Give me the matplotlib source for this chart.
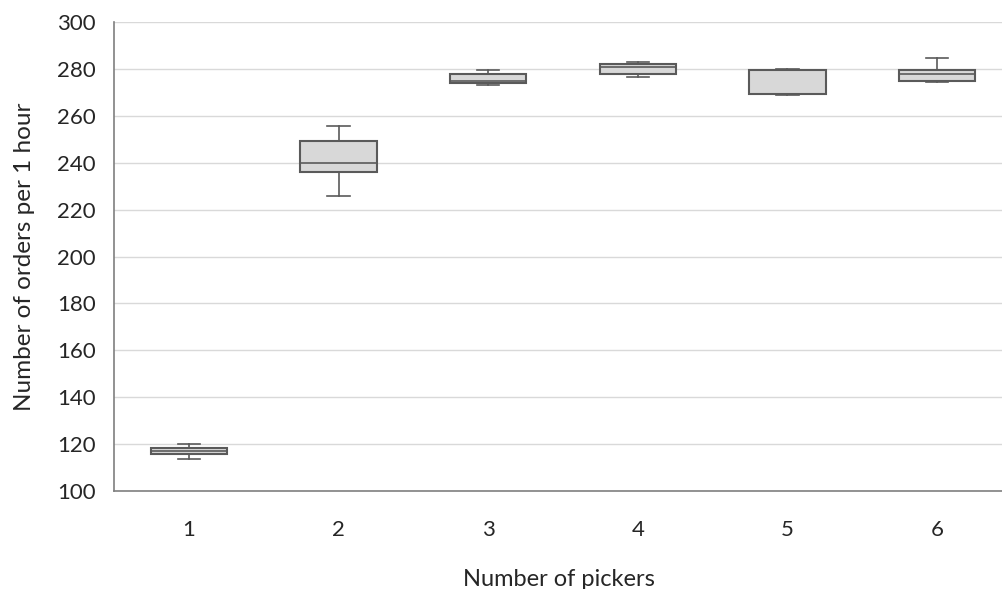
import matplotlib
matplotlib.use("Agg")
import matplotlib.pyplot as plt

categories = ["1", "2", "3", "4", "5", "6"]
whisker_low = [113.8, 225.9, 273.1, 276.4, 268.9, 274.3]
q1 = [115.8, 235.9, 273.9, 277.7, 269.4, 274.8]
median = [117.0, 240.0, 275.0, 281.0, 279.6, 277.9]
q3 = [118.2, 249.3, 277.8, 282.1, 279.7, 279.5]
whisker_high = [120.0, 255.6, 279.5, 282.9, 279.8, 284.6]

plt.rcParams['font.family'] = ['Lato', 'DejaVu Sans']

fig = plt.figure(figsize=(10.03, 5.89), dpi=100)
ax = fig.add_axes([0.1137, 0.1664, 0.8863, 0.7962])

stats = []
for i, c in enumerate(categories):
    stats.append(dict(label=c, whislo=whisker_low[i], q1=q1[i], med=median[i],
                      q3=q3[i], whishi=whisker_high[i], fliers=[]))

positions = list(range(1, len(categories) + 1))
edge = '#5a5a5a'
ax.bxp(stats, positions=positions, widths=0.51, patch_artist=True, showfliers=False,
       capwidths=0.15,
       boxprops=dict(facecolor='#d8d8d8', edgecolor=edge, linewidth=1.5),
       medianprops=dict(color=edge, linewidth=1.2),
       whiskerprops=dict(color=edge, linewidth=1.2),
       capprops=dict(color=edge, linewidth=1.2), zorder=3)

ax.set_xlim(0.5, 6.44)
ax.set_ylim(100, 300)
ax.set_yticks(range(100, 301, 20))
ax.set_xticks(positions)
ax.set_xticklabels(categories)
ax.yaxis.grid(True, color='#d9d9d9', linewidth=1.0, zorder=0)
ax.set_axisbelow(True)
for s in ['top', 'right']:
    ax.spines[s].set_visible(False)
for s in ['left', 'bottom']:
    ax.spines[s].set_color('#7f7f7f')
    ax.spines[s].set_linewidth(1.2)
ax.tick_params(axis='both', length=0, labelsize=16, colors='#262626')
ax.tick_params(axis='x', pad=21)
ax.tick_params(axis='y', pad=13)
ax.set_xlabel('Number of pickers', fontsize=17, color='#262626', labelpad=21)
ax.set_ylabel('Number of orders per 1 hour', fontsize=17.5, color='#262626', labelpad=16)

fig.savefig('out.png', dpi=100)
